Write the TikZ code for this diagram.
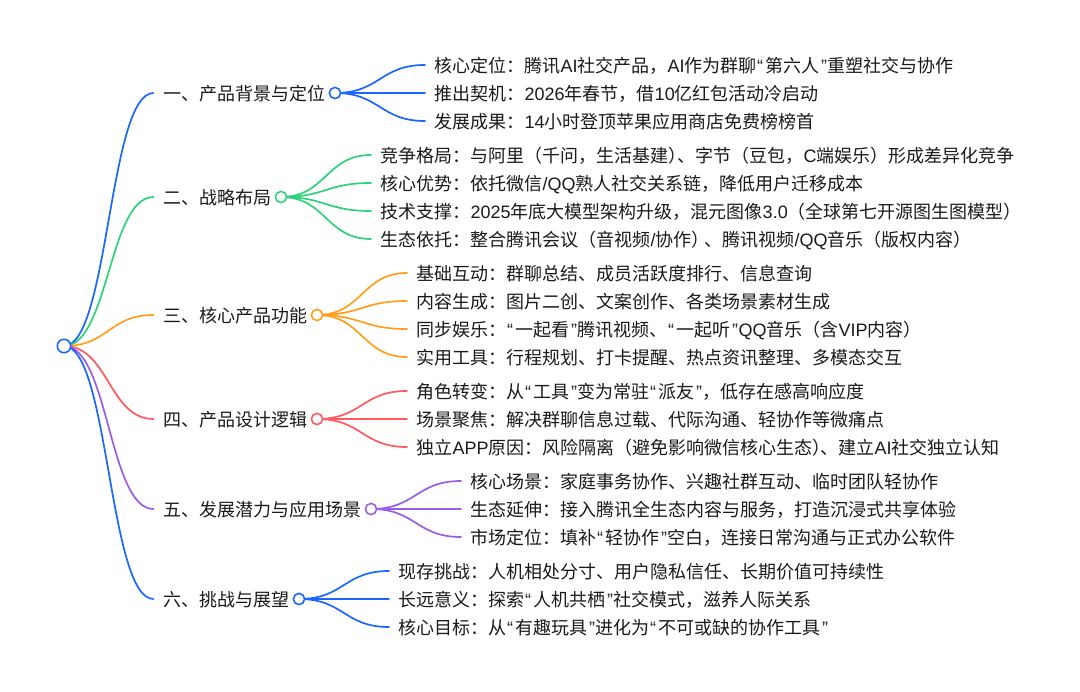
\documentclass[tikz,border=0pt]{standalone}
\usepackage{fontspec}
\usetikzlibrary{backgrounds}
\usetikzlibrary{calc}
\setmainfont{Noto Sans CJK SC}
\newfontfamily\latinfont{Liberation Sans}
\newcommand\la[1]{{\latinfont #1}}
\newcommand\qql{\kern.5pt{\latinfont “}\kern2pt}
\newcommand\qqr{\kern2pt{\latinfont ”}\kern.5pt}
\newcommand\pck[1]{\kern-#1pt}
\definecolor{cblue}{HTML}{1A66FF}
\definecolor{cgreen}{HTML}{2FD17A}
\definecolor{corange}{HTML}{FF9F1C}
\definecolor{cred}{HTML}{FF5A5F}
\definecolor{cpurple}{HTML}{9B5DE5}
\definecolor{ctext}{HTML}{1A1A1A}
\tikzset{
  label/.style={anchor=west,inner xsep=9.5pt,inner ysep=0pt,text=ctext,
    font=\fontsize{18}{20}\selectfont,text height=16pt,text depth=1pt},
  dot/.style={circle,draw,fill=white,inner sep=0pt,minimum size=11.2pt,line width=1.6pt},
  rootdot/.style={circle,draw=cblue,fill=white,inner sep=0pt,minimum size=13.4pt,line width=1.6pt},
  link/.style={line width=1.7pt,line cap=round}
}
\newcommand\lnk[3]{%
  \coordinate (m) at ($(#1.center)!.5!(#2.west)$);
  \begin{scope}[on background layer]
  \draw[link,#3] (#1.center) .. controls (m |- #1.center) and (m |- #2.west) .. (#2.west);
  \end{scope}}
\begin{document}
\begin{tikzpicture}[x=1pt,y=-1pt]
\useasboundingbox (0,0) rectangle (1080,692);
\node[rootdot] (root) at (64,346) {};
% level one
\node[label] (a) at (153.5,93) {一、产品背景与定位};
\node[label] (b) at (153.5,197) {二、战略布局};
\node[label] (c) at (153.5,315) {三、核心产品功能};
\node[label] (d) at (153.5,419) {四、产品设计逻辑};
\node[label] (e) at (153.5,509) {五、发展潜力与应用场景};
\node[label] (f) at (153.5,599) {六、挑战与展望};
\node[dot,draw=cblue] (ad) at (335,93) {};
\node[dot,draw=cgreen] (bd) at (281,197) {};
\node[dot,draw=corange] (cd) at (317,315) {};
\node[dot,draw=cred] (dd) at (317,419) {};
\node[dot,draw=cpurple] (ed) at (371,509) {};
\node[dot,draw=cblue] (fd) at (299,599) {};
% level two
\node[label] (a1) at (425,65) {核心定位：腾讯\la{AI}社交产品，\la{AI}作为群聊\qql{}第六人\qqr{}重塑社交与协作};
\node[label] (a2) at (425,93) {推出契机：\la{2026}年春节，借\la{10}亿红包活动冷启动};
\node[label] (a3) at (425,121) {发展成果：\la{14}小时登顶苹果应用商店免费榜榜首};
\node[label] (b1) at (371,155) {竞争格局：与阿里（千问，生活基建）\pck{9}、字节（豆包，\la{C}端娱乐）形成差异化竞争};
\node[label] (b2) at (371,183) {核心优势：依托微信\la{/QQ}熟人社交关系链，降低用户迁移成本};
\node[label] (b3) at (371,211) {技术支撑：\la{2025}年底大模型架构升级，混元图像\la{3.0}（全球第七开源图生图模型）};
\node[label] (b4) at (371,239) {生态依托：整合腾讯会议（音视频\la{/}协作）\pck{5}、腾讯视频\la{/QQ}音乐（版权内容）};
\node[label] (c1) at (407,273) {基础互动：群聊总结、成员活跃度排行、信息查询};
\node[label] (c2) at (407,301) {内容生成：图片二创、文案创作、各类场景素材生成};
\node[label] (c3) at (407,329) {同步娱乐：\qql{}一起看\qqr{}腾讯视频、\qql{}一起听\qqr{}\la{QQ}音乐（含\la{VIP}内容）};
\node[label] (c4) at (407,357) {实用工具：行程规划、打卡提醒、热点资讯整理、多模态交互};
\node[label] (d1) at (407,391) {角色转变：从\qql{}工具\qqr{}变为常驻\qql{}派友\qqr{}，低存在感高响应度};
\node[label] (d2) at (407,419) {场景聚焦：解决群聊信息过载、代际沟通、轻协作等微痛点};
\node[label] (d3) at (407,447) {独立\la{APP}原因：风险隔离（避免影响微信核心生态）\pck{10}、建立\la{AI}社交独立认知};
\node[label] (e1) at (461,481) {核心场景：家庭事务协作、兴趣社群互动、临时团队轻协作};
\node[label] (e2) at (461,509) {生态延伸：接入腾讯全生态内容与服务，打造沉浸式共享体验};
\node[label] (e3) at (461,537) {市场定位：填补\qql{}轻协作\qqr{}空白，连接日常沟通与正式办公软件};
\node[label] (f1) at (389,571) {现存挑战：人机相处分寸、用户隐私信任、长期价值可持续性};
\node[label] (f2) at (389,599) {长远意义：探索\qql{}人机共栖\qqr{}社交模式，滋养人际关系};
\node[label] (f3) at (389,627) {核心目标：从\qql{}有趣玩具\qqr{}进化为\qql{}不可或缺的协作工具\qqr{}};
% connectors
\lnk{root}{a}{cblue}\lnk{root}{b}{cgreen}\lnk{root}{c}{corange}
\lnk{root}{d}{cred}\lnk{root}{e}{cpurple}\lnk{root}{f}{cblue}
\lnk{ad}{a1}{cblue}\lnk{ad}{a2}{cblue}\lnk{ad}{a3}{cblue}
\lnk{bd}{b1}{cgreen}\lnk{bd}{b2}{cgreen}\lnk{bd}{b3}{cgreen}\lnk{bd}{b4}{cgreen}
\lnk{cd}{c1}{corange}\lnk{cd}{c2}{corange}\lnk{cd}{c3}{corange}\lnk{cd}{c4}{corange}
\lnk{dd}{d1}{cred}\lnk{dd}{d2}{cred}\lnk{dd}{d3}{cred}
\lnk{ed}{e1}{cpurple}\lnk{ed}{e2}{cpurple}\lnk{ed}{e3}{cpurple}
\lnk{fd}{f1}{cblue}\lnk{fd}{f2}{cblue}\lnk{fd}{f3}{cblue}
\end{tikzpicture}
\end{document}
